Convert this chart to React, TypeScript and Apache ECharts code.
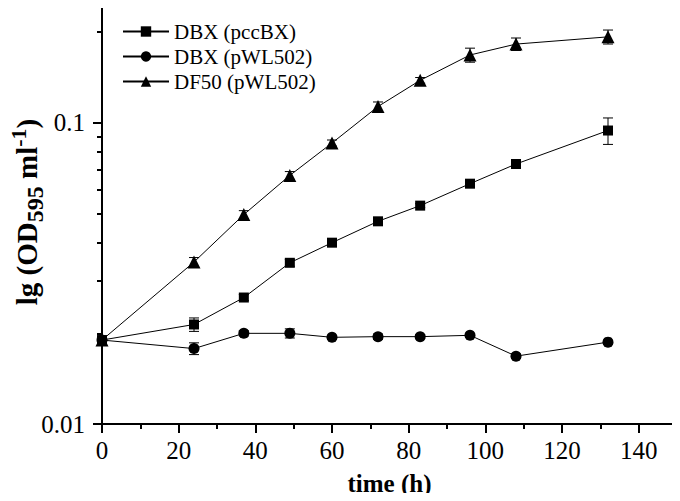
import React, { useEffect, useRef } from "react";
import * as echarts from "echarts";

const times = [0, 24, 37, 49, 60, 72, 83, 96, 108, 132];
const dbxPcc = [0.019, 0.0214, 0.0263, 0.0343, 0.04, 0.0471, 0.0531, 0.0628, 0.073, 0.0943];
const dbxPccErr = [0, 0.0011, 0.0006, 0.0009, 0.0005, 0.0008, 0.0008, 0.0012, 0.0022, 0.0095];
const dbxWl = [0.019, 0.0178, 0.02, 0.02, 0.0194, 0.0195, 0.0195, 0.0197, 0.0168, 0.0187];
const dbxWlErr = [0, 0.0008, 0.0004, 0.0007, 0.0003, 0.0004, 0.0003, 0.0003, 0.0003, 0.0003];
const df50 = [0.019, 0.0345, 0.0496, 0.0669, 0.0857, 0.1133, 0.1384, 0.168, 0.1826, 0.193];
const df50Err = [0, 0.0012, 0.0015, 0.002, 0.002, 0.004, 0.003, 0.009, 0.0087, 0.0103];

const seriesNames = ["DBX (pccBX)", "DBX (pWL502)", "DF50 (pWL502)"];
const xMajor = [0, 20, 40, 60, 80, 100, 120, 140];
const xMinor = [10, 30, 50, 70, 90, 110, 130];
const yMajor = [0.01, 0.1];
const yMinor = [0.02, 0.03, 0.04, 0.05, 0.06, 0.07, 0.08, 0.09, 0.2];

const FONT = "Liberation Serif";

function errData(vals: number[], errs: number[]) {
  return times.map((t, i) => [t, vals[i] - errs[i], vals[i] + errs[i]]);
}

function errSeries(vals: number[], errs: number[]) {
  return {
    type: "custom",
    z: 1,
    silent: true,
    renderItem: (params: any, api: any) => {
      const x = api.value(0);
      const lo = api.coord([x, api.value(1)]);
      const hi = api.coord([x, api.value(2)]);
      const w = 5;
      const st = { stroke: "#000", lineWidth: 1 };
      return {
        type: "group",
        children: [
          { type: "line", shape: { x1: lo[0], y1: lo[1], x2: hi[0], y2: hi[1] }, style: st },
          { type: "line", shape: { x1: lo[0] - w, y1: lo[1], x2: lo[0] + w, y2: lo[1] }, style: st },
          { type: "line", shape: { x1: hi[0] - w, y1: hi[1], x2: hi[0] + w, y2: hi[1] }, style: st },
        ],
      };
    },
    data: errData(vals, errs),
  };
}

function lineSeries(name: string, vals: number[], symbol: string, size: number) {
  return {
    type: "line",
    name,
    z: 3,
    data: times.map((t, i) => [t, vals[i]]),
    symbol,
    symbolSize: size,
    showAllSymbol: true,
    lineStyle: { color: "#000", width: 1 },
    itemStyle: { color: "#000" },
  };
}

export default function App() {
  const ref = useRef<HTMLDivElement>(null);
  useEffect(() => {
    const chart = echarts.init(ref.current!, undefined, { renderer: "svg" });
    const yBase = {
      type: "log",
      logBase: 10,
      min: 0.01,
      max: 0.25,
      gridIndex: 0,
      position: "left",
      splitLine: { show: false },
    };
    chart.setOption({
      animation: false,
      backgroundColor: "#fff",
      textStyle: { fontFamily: FONT },
      grid: {
        left: 102,
        right: 3,
        top: 3,
        bottom: 76,
        show: true,
        borderColor: "#000",
        borderWidth: 2,
        containLabel: false,
      },
      legend: {
        left: 117,
        top: 16,
        orient: "vertical",
        itemWidth: 46,
        itemHeight: 13,
        itemGap: 4,
        data: seriesNames,
        textStyle: { fontFamily: FONT, fontSize: 21, lineHeight: 21, color: "#000" },
      },
      xAxis: [
        {
          type: "value",
          min: 0,
          max: 150,
          interval: 10,
          name: "time (h)",
          nameLocation: "middle",
          nameGap: 47,
          nameTextStyle: { fontFamily: FONT, fontSize: 25, fontWeight: "bold", color: "#000" },
          axisLine: { show: true, lineStyle: { color: "#000", width: 2 } },
          axisTick: { show: true, length: 9, lineStyle: { color: "#000", width: 2 }, customValues: xMajor },
          axisLabel: { fontFamily: FONT, fontSize: 25, color: "#000", margin: 14, customValues: xMajor },
          splitLine: { show: false },
        },
        {
          type: "value",
          min: 0,
          max: 150,
          interval: 10,
          position: "bottom",
          gridIndex: 0,
          axisLine: { show: false },
          axisTick: { show: true, length: 5, lineStyle: { color: "#000", width: 2 }, customValues: xMinor },
          axisLabel: { show: false },
          splitLine: { show: false },
        },
      ],
      yAxis: [
        {
          ...yBase,
          axisLine: { show: true, lineStyle: { color: "#000", width: 2 } },
          axisTick: { show: true, length: 9, lineStyle: { color: "#000", width: 2 }, customValues: yMajor },
          axisLabel: {
            fontFamily: FONT,
            fontSize: 25,
            color: "#000",
            margin: 17,
            customValues: yMajor,
            formatter: (v: number) => String(Number(v.toPrecision(3))),
          },
        },
        {
          ...yBase,
          axisLine: { show: false },
          axisTick: { show: true, length: 5, lineStyle: { color: "#000", width: 2 }, customValues: yMinor },
          axisLabel: { show: false },
        },
      ],
      graphic: [
        {
          type: "text",
          x: 27,
          y: 212,
          rotation: Math.PI / 2,
          style: {
            text: "{b|lg (OD}{sub|595}{b| ml}{sup|-1}{b|)}",
            align: "center",
            verticalAlign: "middle",
            fill: "#000",
            rich: {
              b: { fontFamily: FONT, fontSize: 29, fontWeight: "bold", fill: "#000", lineHeight: 40, verticalAlign: "middle" },
              sub: { fontFamily: FONT, fontSize: 24, fontWeight: "bold", fill: "#000", lineHeight: 40, verticalAlign: "bottom" },
              sup: { fontFamily: FONT, fontSize: 22, fontWeight: "bold", fill: "#000", lineHeight: 40, verticalAlign: "top" },
            },
          },
        },
      ],
      series: [
        errSeries(dbxPcc, dbxPccErr),
        errSeries(dbxWl, dbxWlErr),
        errSeries(df50, df50Err),
        lineSeries(seriesNames[0], dbxPcc, "rect", 10),
        lineSeries(seriesNames[1], dbxWl, "circle", 11),
        lineSeries(seriesNames[2], df50, "triangle", 13),
      ],
    });
    return () => chart.dispose();
  }, []);
  return <div ref={ref} style={{ width: 680, height: 501, margin: -8 }} />;
}
